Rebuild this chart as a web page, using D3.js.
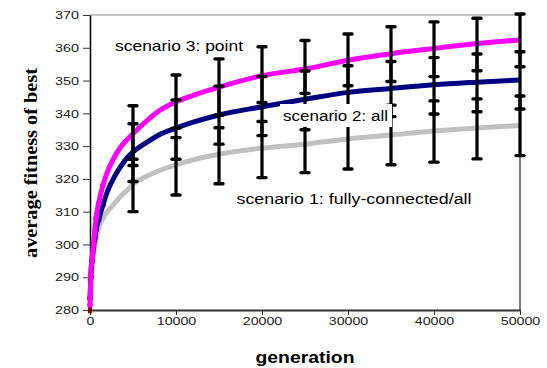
<!DOCTYPE html>
<html>
<head>
<meta charset="utf-8">
<script src="https://cdn.jsdelivr.net/npm/d3@7"></script>
<style>
  body { margin: 0; background: #fff; }
  svg { display: block; }
</style>
</head>
<body>
<div class="container"></div>
<script>
const width = 547, height = 368;

// generations sampled for the curves
const gens = [0, 100, 250, 400, 550, 700, 1000, 1500, 2000, 2700, 3500, 4500, 5000,
    7000, 8000, 10000, 12000, 15000, 20000, 25000, 30000, 35000, 40000, 45000, 50000];
const point = [281.5, 290.5, 296, 300, 304, 308, 312.5, 318, 322, 326, 329.5, 332.5, 333.8,
    338.6, 340.7, 343.5, 345.5, 348, 351.5, 353.5, 356.2, 358.2, 359.8, 361.3, 362.4];
const all = [283.5, 290, 295, 299, 302, 304.5, 307.5, 312, 316, 320, 323.5, 327, 328.2,
    331.8, 333.4, 335.5, 337.3, 339.5, 342, 344.3, 346.4, 347.6, 348.7, 349.5, 350.2];
const fully = [289, 292.5, 295.5, 297.5, 299.5, 301.5, 305, 308, 310, 312, 314.5, 317, 318.3,
    321.3, 322.5, 324.3, 325.8, 327.5, 329.4, 330.6, 332.2, 333.4, 334.6, 335.5, 336.3];
// short dark red trace at the very start
const startGens = [0, 20, 50, 100, 150];
const startVals = [279, 284, 289, 293, 296];

// error bars (low, high) every 5000 generations
const errGens = [5000, 10000, 15000, 20000, 25000, 30000, 35000, 40000, 45000, 50000];
const pointLo = [324.1, 335.5, 339.4, 343.3, 346.1, 348.4, 349.7, 351.2, 353.0, 354.2];
const pointHi = [342.3, 351.7, 356.6, 360.3, 362.2, 364.2, 366.4, 367.9, 369.0, 370.3];
const allLo = [319.2, 326.0, 330.6, 333.2, 335.0, 337.5, 339.0, 339.8, 340.5, 341.3];
const allHi = [336.8, 344.1, 348.3, 351.2, 352.9, 354.5, 355.8, 357.0, 358.1, 358.8];
const fullyLo = [310.0, 315.1, 318.5, 320.4, 321.9, 323.0, 324.3, 325.1, 326.1, 327.1];
const fullyHi = [326.0, 332.6, 335.6, 337.5, 339.2, 341.0, 342.5, 343.8, 344.4, 345.3];

const xTicks = [0, 10000, 20000, 30000, 40000, 50000];
const yTicks = [280, 290, 300, 310, 320, 330, 340, 350, 360, 370];

const x = d3.scaleLinear().domain([0, 50000]).range([90, 520]);
const y = d3.scaleLinear().domain([280, 370]).range([310, 15]);

const svg = d3.select('.container').append('svg')
    .attr('width', width).attr('height', height);

// frame: top grey, right black
svg.append('line').attr('x1', x(0)).attr('x2', x(50000)).attr('y1', y(370)).attr('y2', y(370))
    .attr('stroke', '#888').attr('stroke-width', 1);
svg.append('line').attr('x1', x(50000)).attr('x2', x(50000)).attr('y1', y(370)).attr('y2', y(280))
    .attr('stroke', '#000').attr('stroke-width', 1);

const fitText = (sel, perChar) => sel
    .attr('textLength', function () { return this.textContent.length * perChar; })
    .attr('lengthAdjust', 'spacingAndGlyphs');

const xAxis = svg.append('g')
    .attr('transform', `translate(0,${y(280)})`)
    .call(d3.axisBottom(x).tickValues(xTicks).tickFormat(d3.format('d'))
        .tickSize(5).tickSizeOuter(0).tickPadding(2));
xAxis.select('.domain').attr('stroke', '#333').attr('stroke-width', 2);
xAxis.selectAll('.tick line').attr('stroke', '#333');
xAxis.selectAll('text').attr('font-family', 'Liberation Sans, Arial, sans-serif')
    .attr('font-size', 11.5).attr('fill', '#222').call(fitText, 7.9);

const yAxis = svg.append('g')
    .attr('transform', `translate(${x(0)},0)`)
    .call(d3.axisLeft(y).tickValues(yTicks).tickSize(7).tickSizeOuter(0).tickPadding(4));
yAxis.select('.domain').attr('stroke', '#000').attr('stroke-width', 1.5);
yAxis.selectAll('.tick line').attr('stroke', '#333');
yAxis.selectAll('text').attr('font-family', 'Liberation Sans, Arial, sans-serif')
    .attr('font-size', 11.5).attr('fill', '#222').call(fitText, 8);

// curves
const line = d3.line().x(d => x(d[0])).y(d => y(d[1])).curve(d3.curveMonotoneX);
const series = [
    {vals: fully, color: '#c0c0c0'},
    {vals: all, color: '#000080'},
    {vals: point, color: '#ff00ff'}
];

svg.append('path')
    .datum(d3.zip(startGens, startVals))
    .attr('d', line).attr('fill', 'none')
    .attr('stroke', '#800000').attr('stroke-width', 4);

series.forEach(s => {
    const pts = d3.zip(gens, s.vals);
    svg.append('path').datum(pts).attr('d', line)
        .attr('fill', 'none').attr('stroke', s.color)
        .attr('stroke-width', 5).attr('stroke-linejoin', 'round');
    svg.append('g').selectAll('circle')
        .data(pts.filter(p => p[0] <= 1500))
        .join('circle')
        .attr('cx', d => x(d[0])).attr('cy', d => y(d[1]))
        .attr('r', 2.8).attr('fill', s.color);
});

// error bars
const bars = [
    d3.zip(errGens, fullyLo, fullyHi),
    d3.zip(errGens, allLo, allHi),
    d3.zip(errGens, pointLo, pointHi)
];
const eb = svg.append('g').attr('stroke', '#000');
bars.forEach(b => {
    eb.append('g').selectAll('line')
        .data(b).join('line')
        .attr('x1', d => x(d[0])).attr('x2', d => x(d[0]))
        .attr('y1', d => y(d[1])).attr('y2', d => y(d[2]))
        .attr('stroke-width', 3.2);
    b.forEach(d => {
        [d[1], d[2]].forEach(v => {
            eb.append('line')
                .attr('x1', x(d[0]) - 4).attr('x2', x(d[0]) + 4)
                .attr('y1', y(v)).attr('y2', y(v))
                .attr('stroke-width', 3.4).attr('stroke-linecap', 'round');
        });
    });
});

// labels
const labelFont = 'Liberation Sans, Arial, sans-serif';
svg.append('text').attr('x', 115).attr('y', 50.5)
    .attr('font-family', labelFont).attr('font-size', 14)
    .attr('textLength', 128).attr('lengthAdjust', 'spacingAndGlyphs')
    .text('scenario 3: point');

svg.append('rect').attr('x', 280).attr('y', 104).attr('width', 112).attr('height', 23)
    .attr('fill', '#fff');
svg.append('text').attr('x', 283).attr('y', 120.5)
    .attr('font-family', labelFont).attr('font-size', 14)
    .attr('textLength', 105).attr('lengthAdjust', 'spacingAndGlyphs')
    .text('scenario 2: all');

svg.append('text').attr('x', 236.5).attr('y', 204)
    .attr('font-family', labelFont).attr('font-size', 14)
    .attr('textLength', 235).attr('lengthAdjust', 'spacingAndGlyphs')
    .text('scenario 1: fully-connected/all');

svg.append('text').attr('x', 305).attr('y', 363)
    .attr('text-anchor', 'middle')
    .attr('font-family', labelFont).attr('font-size', 17).attr('font-weight', 'bold')
    .attr('textLength', 99).attr('lengthAdjust', 'spacingAndGlyphs')
    .text('generation');

svg.append('text')
    .attr('transform', 'translate(30,163) scale(1.15,1) rotate(-90)')
    .attr('text-anchor', 'middle').attr('dy', '0.35em')
    .attr('font-family', 'Liberation Serif, Times New Roman, serif')
    .attr('font-size', 17).attr('font-weight', 'bold')
    .attr('textLength', 190).attr('lengthAdjust', 'spacingAndGlyphs')
    .text('average fitness of best');
</script>
</body>
</html>
